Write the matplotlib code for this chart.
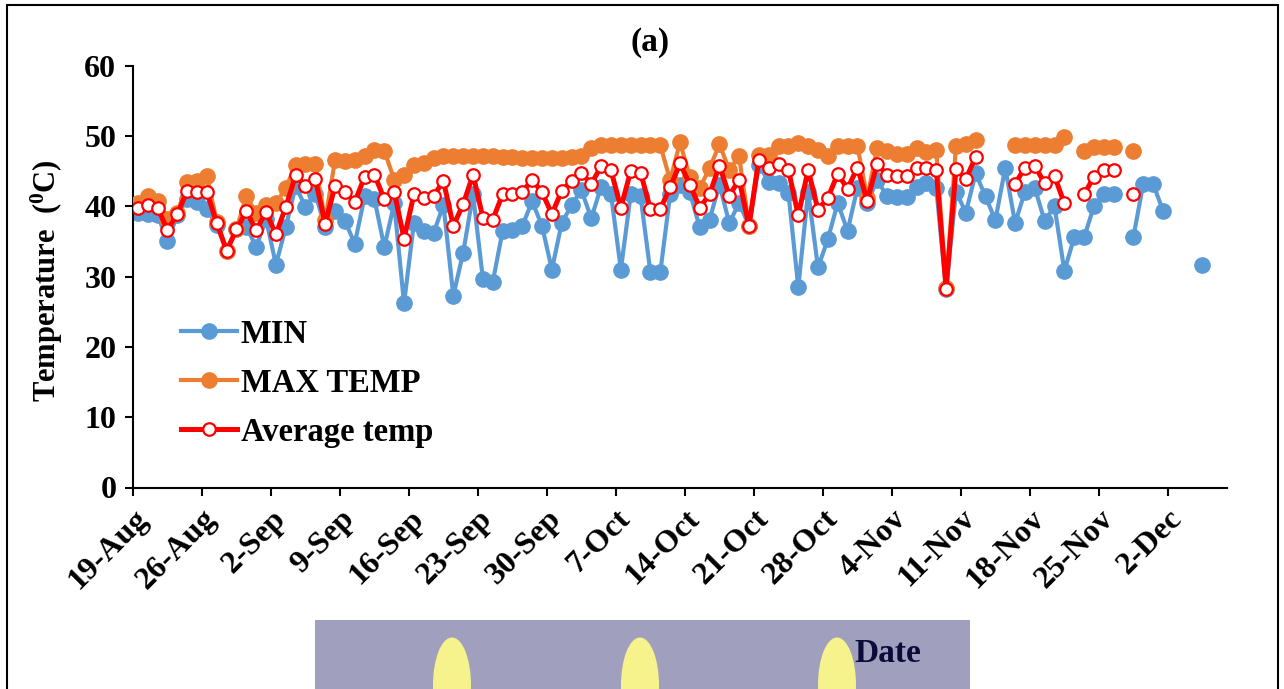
import numpy as np
import matplotlib
matplotlib.use("Agg")
import matplotlib.pyplot as plt
from matplotlib.patches import Rectangle, Ellipse

plt.rcParams['font.family'] = ['Liberation Serif', 'DejaVu Serif']
plt.rcParams['font.weight'] = 'bold'
plt.rcParams['mathtext.fontset'] = 'custom'
plt.rcParams['mathtext.rm'] = 'Liberation Serif'
plt.rcParams['mathtext.bf'] = 'Liberation Serif:bold'

nan = np.nan

# daily readings, day 0 = 19-Aug
min_temp = [39.0, 38.9, 38.8, 35.0, 38.8, 41.0, 40.6, 39.6, 37.4, 33.7,
            36.7, 37.1, 34.2, 38.2, 31.7, 37.0, 42.9, 39.9, 41.8, 37.0,
            39.3, 37.9, 34.7, 41.4, 41.0, 34.2, 40.4, 26.2, 37.6, 36.5,
            36.2, 40.2, 27.3, 33.4, 41.7, 29.7, 29.2, 36.5, 36.6, 37.2,
            40.7, 37.2, 31.0, 37.6, 40.2, 42.3, 38.3, 42.8, 41.7, 31.0,
            41.7, 41.4, 30.6, 30.6, 41.7, 43.0, 42.0, 37.0, 38.1, 43.1,
            37.6, 40.5, 37.2, 45.9, 43.5, 43.3, 41.9, 28.5, 42.1, 31.3,
            35.3, 40.5, 36.5, 42.6, 40.4, 43.8, 41.4, 41.3, 41.3, 42.8,
            43.3, 42.6, 28.2, 42.1, 39.1, 44.7, 41.4, 38.0, 45.5, 37.6,
            42.1, 42.6, 37.9, 40.0, 30.8, 35.6, 35.6, 40.0, 41.7, 41.7,
            nan, 35.6, 43.2, 43.2, 39.4, nan, nan, nan, 31.7]

max_temp = [40.5, 41.5, 40.8, 38.2, 39.0, 43.4, 43.6, 44.3, 37.8, 33.7,
            36.7, 41.5, 39.0, 40.2, 40.4, 42.6, 45.9, 46.0, 46.0, 38.0,
            46.6, 46.5, 46.6, 47.1, 48.0, 47.9, 43.8, 44.5, 45.9, 46.1,
            46.8, 47.2, 47.2, 47.2, 47.2, 47.2, 47.1, 47.0, 47.0, 46.8,
            46.8, 46.8, 46.8, 46.8, 47.0, 47.1, 48.3, 48.7, 48.7, 48.7,
            48.7, 48.7, 48.7, 48.7, 43.7, 49.1, 44.2, 42.6, 45.4, 48.8,
            45.2, 47.1, 37.2, 47.3, 47.3, 48.6, 48.6, 49.0, 48.6, 48.0,
            47.1, 48.6, 48.6, 48.6, 41.2, 48.3, 47.8, 47.5, 47.5, 48.3,
            47.7, 48.0, 28.4, 48.6, 48.8, 49.4, nan, nan, nan, 48.7,
            48.7, 48.7, 48.7, 48.7, 49.9, nan, 47.9, 48.5, 48.5, 48.5,
            nan, 47.8, nan, nan, nan, nan, nan, nan, nan]

avg_temp = [39.7, 40.2, 39.8, 36.6, 38.9, 42.2, 42.1, 42.0, 37.6, 33.7,
            36.7, 39.3, 36.6, 39.2, 36.0, 39.9, 44.4, 42.9, 43.9, 37.5,
            42.9, 42.0, 40.6, 44.2, 44.5, 41.0, 42.1, 35.4, 41.7, 41.2,
            41.5, 43.6, 37.2, 40.3, 44.5, 38.4, 38.1, 41.7, 41.8, 42.0,
            43.8, 42.0, 38.9, 42.2, 43.6, 44.7, 43.2, 45.7, 45.1, 39.8,
            45.0, 44.8, 39.6, 39.6, 42.7, 46.1, 43.1, 39.8, 41.7, 45.8,
            41.5, 43.8, 37.2, 46.6, 45.4, 46.0, 45.2, 38.7, 45.2, 39.5,
            41.2, 44.6, 42.5, 45.5, 40.8, 46.0, 44.5, 44.3, 44.3, 45.5,
            45.4, 45.2, 28.3, 45.3, 43.9, 47.0, nan, nan, nan, 43.2,
            45.5, 45.7, 43.3, 44.3, 40.4, nan, 41.7, 44.2, 45.1, 45.1,
            nan, 41.7, nan, nan, nan, nan, nan, nan, nan]

tick_labels = ['19-Aug', '26-Aug', '2-Sep', '9-Sep', '16-Sep', '23-Sep', '30-Sep',
               '7-Oct', '14-Oct', '21-Oct', '28-Oct', '4-Nov', '11-Nov', '18-Nov',
               '25-Nov', '2-Dec']

# excel date axis, points sit in the middle of each day
days = np.arange(len(min_temp)) + 0.5

fig = plt.figure(figsize=(12.84, 6.89), dpi=100)
ax = fig.add_axes([133/1284, 1 - 487.5/689, 1094/1284, 421.8/689])

ax.plot(days, min_temp, color='#5B9BD5', lw=3.0, marker='o', ms=11,
        mfc='#5B9BD5', mec='#5B9BD5', label='MIN', zorder=2)
ax.plot(days, max_temp, color='#ED7D31', lw=3.0, marker='o', ms=11,
        mfc='#ED7D31', mec='#ED7D31', label='MAX TEMP', zorder=3)
ax.plot(days, avg_temp, color='#FF0000', lw=3.6, marker='o', ms=9,
        mfc='white', mec='#FF0000', mew=1.6, label='Average temp', zorder=4)

ax.set_xlim(0, 111)
ax.set_ylim(0, 60)
ax.set_yticks(range(0, 61, 10))
ax.set_xticks(np.arange(len(tick_labels)) * 7)
ax.set_xticklabels(tick_labels, rotation=45, ha='right', va='top',
                   rotation_mode='anchor', fontsize=23, fontweight='bold')
for lab in ax.get_yticklabels():
    lab.set_fontsize(23)
    lab.set_fontweight('bold')

for s in ['top', 'right']:
    ax.spines[s].set_visible(False)
for s in ['left', 'bottom']:
    ax.spines[s].set_linewidth(1.5)
ax.tick_params(direction='out', length=6, width=1.5, pad=6)

ax.set_ylabel(r'Temperature  ($\mathbf{{}^{0}}$C)', fontsize=22,
              fontweight='bold')
ax.yaxis.set_label_coords(-0.062, 0.49)

leg = ax.legend(loc='upper left', bbox_to_anchor=(0.044, 0.40), frameon=False,
                prop={'size': 23.5, 'weight': 'bold'}, handlelength=1.7,
                handletextpad=0.12, labelspacing=0.55, borderpad=0,
                borderaxespad=0)

fig.text(650/1284, 1 - 42/689, '(a)', fontsize=24, fontweight='bold',
         ha='center', va='center')

# outer frame of the figure
fig.patches.append(Rectangle((7/1284, -0.05), 1271/1284, 1.05 - 5/689,
                             transform=fig.transFigure, fill=False,
                             ec='black', lw=1.5))

# watermark strip behind the axis title
fig.patches.append(Rectangle((315/1284, 0), 655/1284, 69/689,
                             transform=fig.transFigure, fc='#A19FBE',
                             ec='none', zorder=0))
for cx in [452, 640, 837]:
    fig.patches.append(Ellipse((cx/1284, 1 - 685/689), 38/1284, 95/689,
                               transform=fig.transFigure, fc='#F6F38C',
                               ec='none', zorder=0.5))

fig.text(888/1284, 1 - 654/689, 'Date', fontsize=24, fontweight='bold',
         color='#0B0B3B', ha='center', va='center')

fig.savefig('out.png', dpi=100)
